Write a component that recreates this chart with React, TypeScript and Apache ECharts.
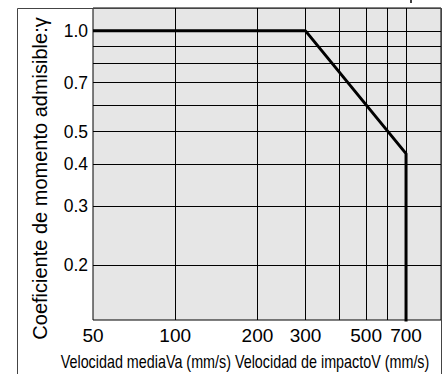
import React, { useEffect, useRef } from 'react';
import * as echarts from 'echarts';

const curveX = [50, 300, 700, 700];
const curveY = [1.0, 1.0, 0.43, 0.1];
const xGrid = [100, 200, 300, 400, 500, 600, 700];
const xLabels = [50, 100, 200, 300, 500, 700];
const yGrid = [0.2, 0.3, 0.4, 0.5, 0.6, 0.7, 0.8, 0.9, 1.0];
const yLabels = [0.2, 0.3, 0.4, 0.5, 0.7, 1.0];
const xRange = [50, 940];
const yRange = [0.137, 1.17];
const xName = 'Velocidad mediaVa (mm/s) Velocidad de impactoV (mm/s)';
const yName = 'Coeficiente de momento admisible:γ';

const FONT = "'Liberation Sans', Arial, Helvetica, sans-serif";

export default function App() {
  const ref = useRef<HTMLDivElement>(null);
  useEffect(() => {
    document.body.style.margin = '0';
    const chart = echarts.init(ref.current!, null, { renderer: 'svg' });
    chart.setOption({
      animation: false,
      backgroundColor: '#ffffff',
      textStyle: { fontFamily: FONT },
      grid: {
        left: 93,
        right: 5,
        top: 8,
        bottom: 54,
        show: true,
        backgroundColor: '#e6e6e6',
        borderColor: '#000',
        borderWidth: 1,
      },
      xAxis: {
        type: 'log',
        logBase: 10,
        min: xRange[0],
        max: xRange[1],
        axisLine: { show: false },
        axisTick: { show: false, customValues: xGrid },
        axisLabel: {
          customValues: xLabels,
          fontSize: 19,
          color: '#000',
          margin: 6,
          fontFamily: FONT,
        },
        splitLine: { show: true, lineStyle: { color: '#000', width: 1 } },
      },
      yAxis: {
        type: 'log',
        logBase: 10,
        min: yRange[0],
        max: yRange[1],
        axisLine: { show: false },
        axisTick: { show: false, customValues: yGrid },
        axisLabel: {
          customValues: yLabels,
          fontSize: 17.5,
          color: '#000',
          margin: 5,
          fontFamily: FONT,
          formatter: (v: number) => v.toFixed(1),
        },
        splitLine: { show: true, lineStyle: { color: '#000', width: 1 } },
      },
      series: [
        {
          type: 'line',
          data: curveX.map((x, i) => [x, curveY[i]]),
          symbol: 'none',
          clip: true,
          z: 5,
          lineStyle: { color: '#000', width: 3 },
        },
      ],
      graphic: [
        {
          type: 'polyline',
          shape: { points: [[17.5, 380], [17.5, 8.5], [441.5, 8.5], [441.5, 380]] },
          style: { stroke: '#444', lineWidth: 1, fill: null },
          z: 0,
        },
        {
          type: 'line',
          shape: { x1: 411, y1: 0, x2: 411, y2: 3 },
          style: { stroke: '#000', lineWidth: 1.5 },
        },
        {
          type: 'text',
          x: 245,
          y: 362,
          scaleX: 0.775,
          style: {
            text: xName,
            fontSize: 18.5,
            fontFamily: FONT,
            fill: '#000',
            align: 'center',
            verticalAlign: 'middle',
          },
        },
        {
          type: 'text',
          x: 40,
          y: 178.5,
          rotation: Math.PI / 2,
          style: {
            text: yName,
            fontSize: 20,
            fontFamily: FONT,
            fill: '#000',
            align: 'center',
            verticalAlign: 'middle',
          },
        },
      ],
    });
    return () => chart.dispose();
  }, []);
  return (
    <div
      ref={ref}
      style={{ position: 'absolute', left: 0, top: 0, width: 446, height: 374 }}
    />
  );
}
